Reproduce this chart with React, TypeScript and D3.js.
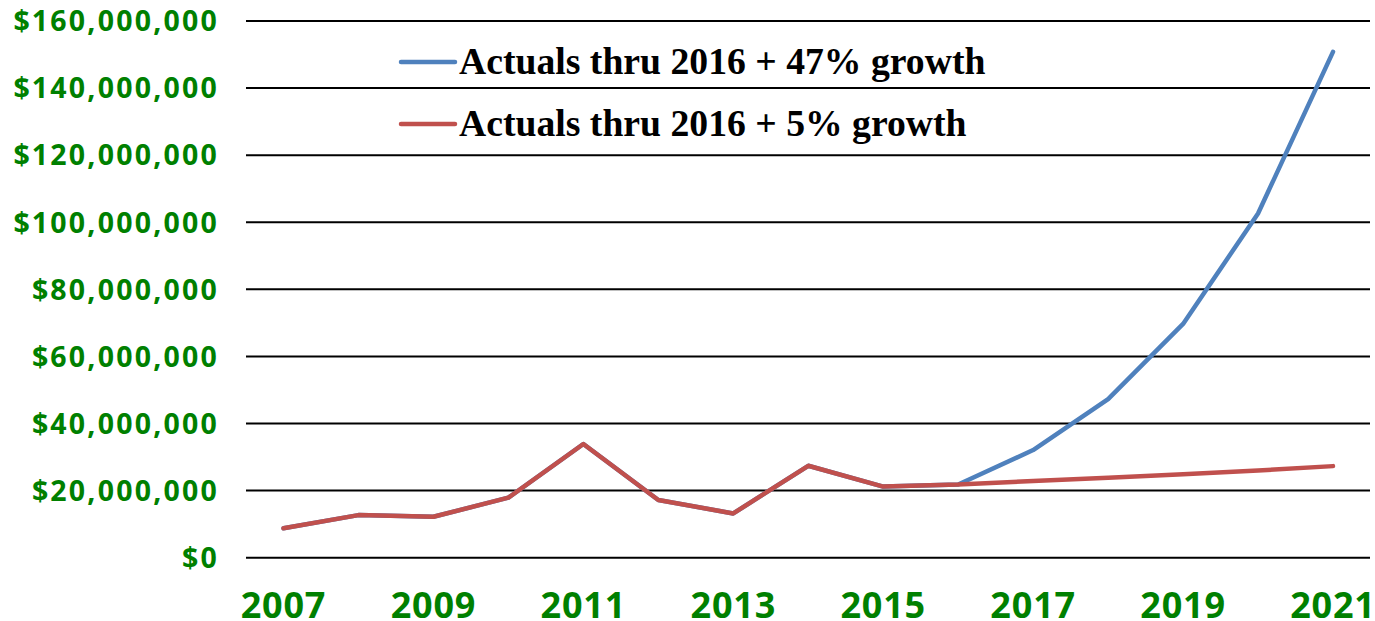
import React from "react";
import * as d3 from "d3";

const years = [2007, 2008, 2009, 2010, 2011, 2012, 2013, 2014, 2015, 2016, 2017, 2018, 2019, 2020, 2021];
const growth47 = [8.76, 12.7, 12.2, 17.9, 33.9, 17.2, 13.2, 27.4, 21.2, 21.8, 32.1, 47.3, 69.7, 102.6, 150.8];
const growth5 = [8.76, 12.7, 12.2, 17.9, 33.9, 17.2, 13.2, 27.4, 21.2, 21.8, 22.9, 23.8, 24.9, 26.0, 27.3];
const yTicks = [0, 20, 40, 60, 80, 100, 120, 140, 160];
const xTickYears = [2007, 2009, 2011, 2013, 2015, 2017, 2019, 2021];
const seriesNames = ["Actuals thru 2016 + 47% growth", "Actuals thru 2016 + 5% growth"];
const colors = ["#4F81BD", "#C0504D"];

export default function App() {
  const W = 1375, H = 621;
  const x = d3.scaleLinear().domain([2007, 2021]).range([283.5, 1333]);
  const y = d3.scaleLinear().domain([0, 160]).range([557.7, 21]);
  const line = d3.line<number>().x((_, i) => x(years[i])).y((d) => y(d));
  const fmt = (v: number) => "$" + d3.format(",")(v * 1000000);
  const series = [growth47, growth5];
  return (
    <svg width={W} height={H} style={{ position: "absolute", left: 0, top: 0, background: "#fff" }}>
      {yTicks.map((t) => (
        <g key={t}>
          <line x1={246} x2={1370} y1={y(t)} y2={y(t)} stroke="#000" strokeWidth={2} />
          <text x={219} y={y(t)} dy="0.36em" textAnchor="end" fill="#008000" letterSpacing={2.2}
            fontFamily="'Open Sans', sans-serif" fontWeight={700} fontSize={28.5}>{fmt(t)}</text>
        </g>
      ))}
      {xTickYears.map((yr) => (
        <text key={yr} x={x(yr)} y={618} textAnchor="middle" fill="#008000" letterSpacing={0.8}
          fontFamily="'Open Sans', sans-serif" fontWeight={700} fontSize={36}>{yr}</text>
      ))}
      {series.map((s, i) => (
        <path key={i} d={line(s) || ""} fill="none" stroke={colors[i]} strokeWidth={4.5}
          strokeLinejoin="round" strokeLinecap="round" />
      ))}
      {seriesNames.map((n, i) => (
        <g key={n}>
          <line x1={401} x2={455} y1={62 + i * 62} y2={62 + i * 62} stroke={colors[i]} strokeWidth={4.5} strokeLinecap="round" />
          <text x={459} y={74 + i * 62} fontFamily="'Liberation Serif', 'Times New Roman', serif"
            fontWeight={700} fontSize={37.7} fill="#000">{n}</text>
        </g>
      ))}
    </svg>
  );
}
